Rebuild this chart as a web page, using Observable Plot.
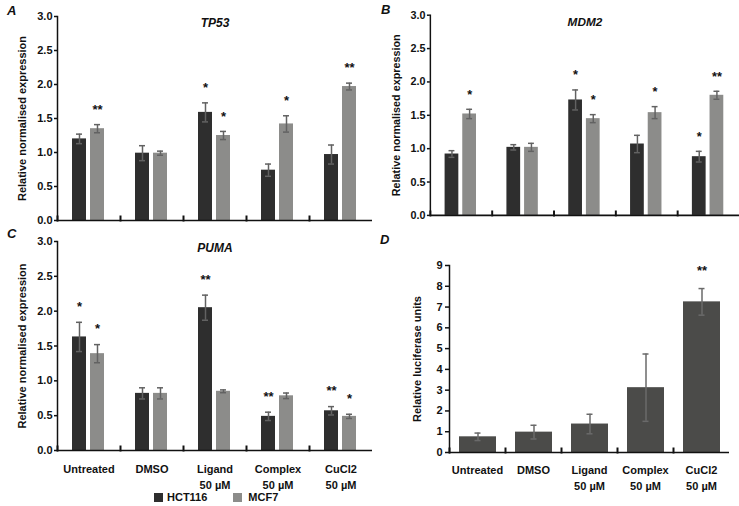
<!DOCTYPE html>
<html><head><meta charset="utf-8">
<script src="https://cdn.jsdelivr.net/npm/d3@7"></script>
<script src="https://cdn.jsdelivr.net/npm/@observablehq/plot@0.6"></script>
<style>
body{margin:0;background:#fff;overflow:hidden;font-family:"Liberation Sans",Arial,sans-serif;}
#root{position:relative;width:739px;height:506px;overflow:hidden;background:#fff;}
.panel{position:absolute;}
.letter{position:absolute;font:italic bold 13px "Liberation Sans",Arial,sans-serif;color:#111;}
.legend{position:absolute;top:491px;left:154px;font:bold 11px "Liberation Sans",Arial,sans-serif;color:#111;display:flex;align-items:center;}
.sw{display:inline-block;width:9px;height:9px;margin-right:4px;}
</style></head><body><div id="root"></div>
<script>
// ---- data ----
const treatments = ["Untreated", "DMSO", "Ligand", "Complex", "CuCl2"];
const treatmentLabels = ["Untreated", "DMSO", "Ligand\n50 µM", "Complex\n50 µM", "CuCl2\n50 µM"];
const cellLines = ["HCT116", "MCF7"];

const tp53Hct = [1.20, 0.99, 1.59, 0.74, 0.97];
const tp53HctErr = [0.07, 0.11, 0.14, 0.09, 0.14];
const tp53HctSig = ["", "", "*", "", ""];
const tp53Mcf = [1.35, 0.99, 1.25, 1.42, 1.97];
const tp53McfErr = [0.06, 0.03, 0.06, 0.12, 0.05];
const tp53McfSig = ["**", "", "*", "*", "**"];

const mdm2Hct = [0.92, 1.02, 1.73, 1.07, 0.88];
const mdm2HctErr = [0.05, 0.04, 0.15, 0.13, 0.08];
const mdm2HctSig = ["", "", "*", "", "*"];
const mdm2Mcf = [1.52, 1.02, 1.45, 1.54, 1.80];
const mdm2McfErr = [0.07, 0.06, 0.06, 0.09, 0.06];
const mdm2McfSig = ["*", "", "*", "*", "**"];

const pumaHct = [1.63, 0.82, 2.05, 0.49, 0.57];
const pumaHctErr = [0.21, 0.08, 0.18, 0.06, 0.06];
const pumaHctSig = ["*", "", "**", "**", "**"];
const pumaMcf = [1.39, 0.82, 0.85, 0.785, 0.49];
const pumaMcfErr = [0.13, 0.08, 0.02, 0.04, 0.03];
const pumaMcfSig = ["*", "", "", "", "*"];

const luciferase = [0.755, 0.98, 1.37, 3.12, 7.25];
const luciferaseErr = [0.18, 0.33, 0.47, 1.62, 0.64];
const luciferaseSig = ["", "", "", "", "**"];

const expressionTicks = [0, 0.5, 1.0, 1.5, 2.0, 2.5, 3.0];
const luciferaseTicks = [0, 1, 2, 3, 4, 5, 6, 7, 8, 9];

// ---- style ----
const DARK = "#2e2e2e", LIGHT = "#8c8c8a", DBAR = "#4b4b49", ERR = "#626262";
const FONT = "'Liberation Sans', Arial, sans-serif";
const root = document.getElementById("root");
const labelOf = new Map(treatments.map((t, i) => [t, treatmentLabels[i]]));

function place(el, left, top) {
  const wrap = document.createElement("div");
  wrap.className = "panel";
  wrap.style.left = left + "px";
  wrap.style.top = top + "px";
  wrap.appendChild(el);
  root.appendChild(wrap);
}

function genePanel({title, hct, hctErr, hctSig, mcf, mcfErr, mcfSig, left, top, width, height, mt, mb, ml, mr, xLabels, tickPad}) {
  const rows = treatments.flatMap((t, i) => [
    {t, line: "HCT116", v: hct[i], e: hctErr[i], sig: hctSig[i]},
    {t, line: "MCF7", v: mcf[i], e: mcfErr[i], sig: mcfSig[i]}
  ]);
  const ih = height - mt - mb;
  const marks = [
    Plot.barY(rows, {fx: "t", x: "line", y: "v", fill: "line"}),
    Plot.ruleX(rows, {fx: "t", x: "line", y1: d => d.v - d.e, y2: d => d.v + d.e, stroke: ERR, strokeWidth: 1.5}),
    Plot.tickY(rows, {fx: "t", x: "line", y: d => d.v + d.e, stroke: ERR, strokeWidth: 1.5, insetLeft: 4, insetRight: 4}),
    Plot.tickY(rows, {fx: "t", x: "line", y: d => d.v - d.e, stroke: ERR, strokeWidth: 1.5, insetLeft: 4, insetRight: 4}),
    Plot.text(rows.filter(d => d.sig), {fx: "t", x: "line", y: d => d.v + d.e + 0.22, text: "sig", fontSize: 13, fontWeight: "bold", fill: "#111"}),
    Plot.ruleY([0], {stroke: "#111", strokeWidth: 1.6}),
    Plot.frame({anchor: "left", insetTop: ih - 4, stroke: "#111", strokeWidth: 2}),
    Plot.frame({anchor: "left", facetAnchor: "left", stroke: "#111", strokeWidth: 1.5}),
    Plot.axisY({ticks: expressionTicks, tickFormat: d3.format(".1f"), tickSize: 3, tickPadding: 2, fontWeight: "bold", fontSize: 11,
      label: "Relative normalised expression", labelAnchor: "center", labelArrow: "none", labelOffset: 39, strokeWidth: 1.5}),
    Plot.text([{t: "Ligand", title}], {fx: "t", text: "title", frameAnchor: "top", dy: 2, fontStyle: "italic", fontWeight: "bold", fontSize: 12, fill: "#111"})
  ];
  if (xLabels) marks.push(Plot.axisFx({anchor: "bottom", tickSize: 0, tickPadding: tickPad, tickFormat: d => labelOf.get(d), fontWeight: "bold", fontSize: 11, lineHeight: 1.45, label: null}));
  const chart = Plot.plot({
    width, height, marginTop: mt, marginBottom: mb, marginLeft: ml, marginRight: mr,
    style: {fontFamily: FONT, color: "#111", background: "transparent", overflow: "visible"},
    fx: {domain: treatments, padding: 0, axis: null, label: null},
    x: {domain: cellLines, paddingInner: 0.22, paddingOuter: 0.85, axis: null},
    y: {domain: [0, 3], axis: null},
    color: {domain: cellLines, range: [DARK, LIGHT]},
    marks
  });
  place(chart, left, top);
}

genePanel({title: "TP53", hct: tp53Hct, hctErr: tp53HctErr, hctSig: tp53HctSig, mcf: tp53Mcf, mcfErr: tp53McfErr, mcfSig: tp53McfSig,
  left: 0, top: 0, width: 372, height: 225, mt: 16, mb: 5, ml: 56, mr: 0, xLabels: false});
genePanel({title: "MDM2", hct: mdm2Hct, hctErr: mdm2HctErr, hctSig: mdm2HctSig, mcf: mdm2Mcf, mcfErr: mdm2McfErr, mcfSig: mdm2McfSig,
  left: 370, top: 0, width: 376, height: 225, mt: 15, mb: 6, ml: 61, mr: 0, xLabels: false});
genePanel({title: "PUMA", hct: pumaHct, hctErr: pumaHctErr, hctSig: pumaHctSig, mcf: pumaMcf, mcfErr: pumaMcfErr, mcfSig: pumaMcfSig,
  left: 0, top: 225, width: 372, height: 281, mt: 16, mb: 56, ml: 56, mr: 0, xLabels: true, tickPad: 11});

// Panel D
{
  const rows = treatments.map((t, i) => ({t, s: "RLU", v: luciferase[i], e: luciferaseErr[i], sig: luciferaseSig[i]}));
  const height = 281, mt = 40, mb = 54;
  const ih = height - mt - mb;
  const chart = Plot.plot({
    width: 369, height, marginTop: mt, marginBottom: mb, marginLeft: 77, marginRight: 8,
    style: {fontFamily: FONT, color: "#111", background: "transparent", overflow: "visible"},
    fx: {domain: treatments, padding: 0, axis: null, label: null},
    x: {domain: ["RLU"], padding: 0.2, axis: null},
    y: {domain: [0, 9], axis: null},
    marks: [
      Plot.barY(rows, {fx: "t", x: "s", y: "v", fill: DBAR}),
      Plot.ruleX(rows, {fx: "t", x: "s", y1: d => d.v - d.e, y2: d => d.v + d.e, stroke: "#6a6a6a", strokeWidth: 1.5}),
      Plot.tickY(rows, {fx: "t", x: "s", y: d => d.v + d.e, stroke: "#6a6a6a", strokeWidth: 1.5, insetLeft: 15.5, insetRight: 15.5}),
      Plot.tickY(rows, {fx: "t", x: "s", y: d => d.v - d.e, stroke: "#6a6a6a", strokeWidth: 1.5, insetLeft: 15.5, insetRight: 15.5}),
      Plot.text(rows.filter(d => d.sig), {fx: "t", x: "s", y: d => d.v + d.e + 0.85, text: "sig", fontSize: 13, fontWeight: "bold", fill: "#111"}),
      Plot.ruleY([0], {stroke: "#111", strokeWidth: 1.6}),
      Plot.frame({anchor: "left", insetTop: ih - 4, stroke: "#111", strokeWidth: 2}),
      Plot.frame({anchor: "left", facetAnchor: "left", stroke: "#111", strokeWidth: 1.5}),
      Plot.axisY({ticks: luciferaseTicks, tickFormat: d3.format("d"), tickSize: 4, tickPadding: 3, fontWeight: "bold", fontSize: 11,
        label: "Relative luciferase units", labelAnchor: "center", labelArrow: "none", labelOffset: 36, strokeWidth: 1.5}),
      Plot.axisFx({anchor: "bottom", tickSize: 0, tickPadding: 10, tickFormat: d => labelOf.get(d), fontWeight: "bold", fontSize: 11, lineHeight: 1.45, label: null})
    ]
  });
  place(chart, 370, 225);
}

// Panel letters
[["A", 7, 3], ["B", 381, 2], ["C", 7, 226], ["D", 380, 232]].forEach(([t, x, y]) => {
  const d = document.createElement("div");
  d.className = "letter"; d.textContent = t;
  d.style.left = x + "px"; d.style.top = y + "px";
  root.appendChild(d);
});

// Legend
const legend = document.createElement("div");
legend.className = "legend";
legend.innerHTML = `<span class="sw" style="background:${DARK}"></span><span style="margin-right:26px">${cellLines[0]}</span><span class="sw" style="background:${LIGHT};margin-right:6px"></span><span>${cellLines[1]}</span>`;
root.appendChild(legend);
</script>
</body></html>
